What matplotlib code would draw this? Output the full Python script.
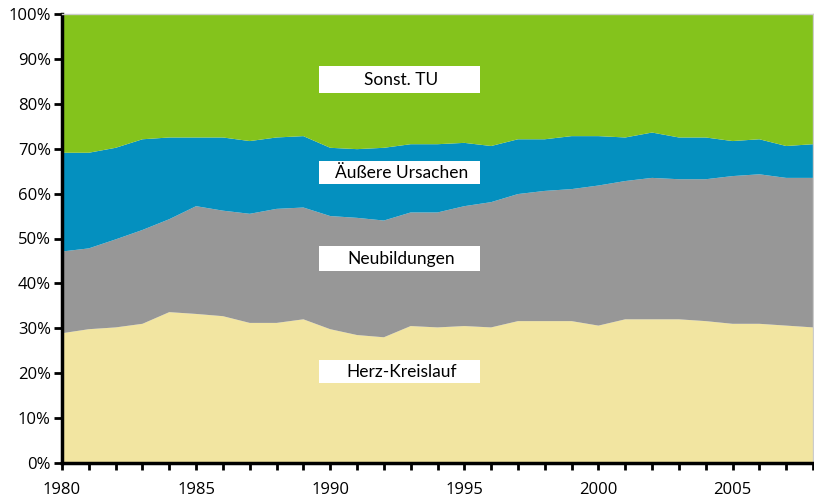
import matplotlib
matplotlib.use("Agg")
import matplotlib.pyplot as plt
from matplotlib.patches import Rectangle
import numpy as np

years = list(range(1980, 2009))
# cumulative boundaries (percent)
herz_top = [28.9, 29.8, 30.2, 31.0, 33.6, 33.2, 32.7, 31.2, 31.2, 32.0, 29.8, 28.5, 28.0, 30.5,
            30.2, 30.5, 30.2, 31.6, 31.6, 31.6, 30.6, 32.0, 32.0, 32.0, 31.6, 31.0, 31.0, 30.6, 30.2]
neu_top = [47.1, 47.8, 49.8, 51.9, 54.3, 57.2, 56.2, 55.5, 56.6, 56.9, 55.0, 54.6, 54.0, 55.8,
           55.8, 57.2, 58.1, 59.9, 60.6, 61.0, 61.8, 62.8, 63.5, 63.2, 63.2, 63.9, 64.3, 63.5, 63.5]
aus_top = [69.1, 69.1, 70.2, 72.1, 72.5, 72.5, 72.5, 71.7, 72.5, 72.8, 70.2, 69.9, 70.2, 71.0,
           71.0, 71.3, 70.6, 72.1, 72.1, 72.8, 72.8, 72.5, 73.6, 72.5, 72.5, 71.7, 72.1, 70.6, 71.0]

herz = np.array(herz_top)
neubildungen = np.array(neu_top) - np.array(herz_top)
aeussere = np.array(aus_top) - np.array(neu_top)
sonst = 100 - np.array(aus_top)

labels = ["Herz-Kreislauf", "Neubildungen", "Äußere Ursachen", "Sonst. TU"]
colors = ["#F2E5A1", "#979797", "#0490BF", "#84C31C"]
# label box extents (y bottom, y top) in percent
box_y = [(17.8, 22.9), (42.7, 48.3), (62.1, 67.2), (82.4, 88.4)]
box_x = (1989.6, 1995.6)

plt.rcParams['font.family'] = ['Open Sans', 'DejaVu Sans']

fig = plt.figure(figsize=(8.14, 4.99), dpi=100)
ax = fig.add_axes([62/814, 36/499, 751/814, 449/499])
ax.stackplot(years, herz, neubildungen, aeussere, sonst, colors=colors, linewidth=0)

ax.set_xlim(1980, 2008)
ax.set_ylim(0, 100)

for lab, (y0, y1) in zip(labels, box_y):
    ax.add_patch(Rectangle((box_x[0], y0), box_x[1] - box_x[0], y1 - y0,
                           facecolor='white', edgecolor='none', zorder=3))
    ax.text((box_x[0] + box_x[1]) / 2 + 0.05, (y0 + y1) / 2, lab, ha='center', va='center',
            fontsize=12.5, color='black', zorder=4, family=['Lato', 'DejaVu Sans'])

ax.set_xticks(years)
ax.set_xticklabels([str(y) if y % 5 == 0 else '' for y in years], fontsize=12)
ax.set_yticks(range(0, 101, 10))
ax.set_yticklabels([f"{v}%" for v in range(0, 101, 10)], fontsize=12)
ax.tick_params(axis='x', direction='out', length=5, width=2, pad=9, color='black')
ax.tick_params(axis='y', direction='out', length=6, width=2, pad=2, color='black')

for s in ['left', 'bottom']:
    ax.spines[s].set_linewidth(2.5)
    ax.spines[s].set_color('black')
for s in ['top', 'right']:
    ax.spines[s].set_linewidth(1)
    ax.spines[s].set_color('#cccccc')

fig.savefig("out.png", dpi=100)
